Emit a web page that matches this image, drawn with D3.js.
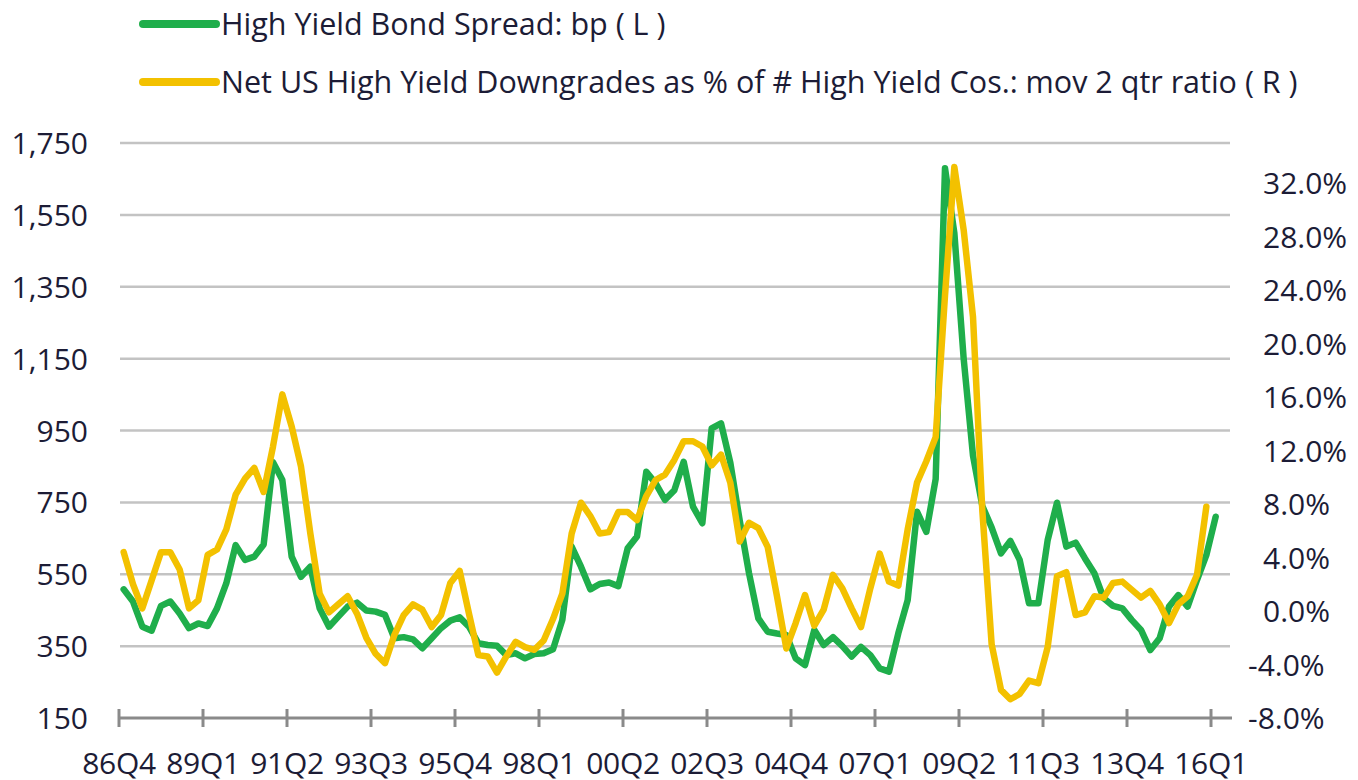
<!DOCTYPE html>
<html lang="en">
<head>
<meta charset="UTF-8">
<title>High Yield Spread vs Downgrades</title>
<style>
    body { margin: 0; background: #fff; }
    svg text { font-family: "Open Sans", sans-serif; fill: #1c1c36; }
    .grid line { stroke: #c3c3c3; stroke-width: 2.5px; }
    .line { fill: none; stroke-width: 6.5px; stroke-linejoin: round; stroke-linecap: round; }
    .axis--x line { stroke: #8a8a8a; stroke-width: 3px; }
</style>
</head>
<body>
<svg width="1358" height="780"></svg>
<script src="https://d3js.org/d3.v7.min.js"></script>
<script>
    // quarters 86Q4 .. 16Q1
    var quarters = [];
    var yr = 1986, qt = 4;
    while (quarters.length < 118) {
        quarters.push(String(yr % 100).padStart(2, "0") + "Q" + qt);
        qt++;
        if (qt > 4) { qt = 1; yr++; }
    }

    // High Yield Bond Spread, bp (left axis)
    var spread = [508, 474, 404, 393, 462, 474, 441, 400, 413, 406,
        455, 525, 631, 590, 599, 633, 862, 812, 599, 543,
        571, 455, 404, 432, 460, 471, 449, 446, 437, 372,
        375, 369, 344, 372, 400, 421, 430, 404, 358, 353,
        351, 325, 330, 316, 328, 330, 341, 423, 627, 571,
        508, 523, 527, 517, 622, 655, 835, 803, 757, 784,
        863, 738, 692, 956, 970, 860, 700, 553, 427, 390,
        385, 381, 316, 297, 395, 353, 375, 350, 321, 348,
        325, 288, 279, 386, 478, 724, 668, 815, 1680, 1500,
        1150, 880, 740, 680, 608, 643, 590, 469, 469, 645,
        749, 627, 638, 594, 553, 483, 462, 455, 423, 395,
        339, 372, 460, 492, 460, 534, 603, 710];

    // Net US HY downgrades as % of # HY companies, mov 2 qtr ratio (right axis)
    var downgrades = [4.4, 2.0, 0.2, 2.3, 4.4, 4.4, 3.1, 0.2, 0.8, 4.2,
        4.6, 6.1, 8.7, 9.9, 10.7, 8.9, 12.3, 16.2, 13.8, 10.8,
        5.8, 1.3, -0.1, 0.5, 1.1, -0.2, -2.0, -3.2, -3.9, -1.8,
        -0.3, 0.5, 0.1, -1.2, -0.3, 2.1, 3.0, -0.2, -3.3, -3.4,
        -4.6, -3.4, -2.3, -2.7, -2.9, -2.2, -0.6, 1.3, 5.8, 8.1,
        7.1, 5.8, 5.9, 7.4, 7.4, 6.8, 8.6, 9.8, 10.2, 11.3,
        12.7, 12.7, 12.3, 10.9, 11.7, 9.6, 5.2, 6.6, 6.2, 4.8,
        1.1, -2.8, -0.9, 1.2, -1.1, 0.1, 2.7, 1.7, 0.2, -1.2,
        1.7, 4.3, 2.2, 1.9, 6.1, 9.6, 11.2, 13.0, 23.6, 33.2,
        28.5, 22.0, 7.5, -2.5, -5.9, -6.6, -6.2, -5.2, -5.4, -2.7,
        2.6, 2.9, -0.3, -0.1, 1.1, 1.0, 2.1, 2.2, 1.6, 1.0,
        1.5, 0.5, -0.9, 0.5, 1.1, 2.7, 7.8];

    var leftTicks = [150, 350, 550, 750, 950, 1150, 1350, 1550, 1750];
    var rightTicks = [-8, -4, 0, 4, 8, 12, 16, 20, 24, 28, 32];
    var xTickLabels = ["86Q4", "89Q1", "91Q2", "93Q3", "95Q4", "98Q1", "00Q2",
        "02Q3", "04Q4", "07Q1", "09Q2", "11Q3", "13Q4", "16Q1"];

    var seriesNames = ["High Yield Bond Spread: bp ( L )",
        "Net US High Yield Downgrades as % of # High Yield Cos.: mov 2 qtr ratio ( R )"];
    var seriesColors = ["#1fae4b", "#f3c100"];

    var svg = d3.select("svg");
    var plotL = 119, plotR = 1232, plotT = 143, plotB = 718;

    // index scale; categories sit half a step right of the tick marks
    var x = d3.scaleLinear().domain([-0.5, 118.75]).range([plotL, plotR]);
    var y = d3.scaleLinear().domain([150, 1750]).range([plotB, plotT]);
    var yR = d3.scaleLinear().domain([-8, 35]).range([plotB, plotT]);

    // gridlines
    svg.append("g").attr("class", "grid")
        .selectAll("line")
        .data(leftTicks.slice(1))
        .enter().append("line")
        .attr("x1", plotL + 1).attr("x2", 1230)
        .attr("y1", function (d) { return y(d); })
        .attr("y2", function (d) { return y(d); });

    // left axis
    var gL = svg.append("g")
        .attr("transform", "translate(" + plotL + ",0)")
        .call(d3.axisLeft(y).tickValues(leftTicks).tickSize(0).tickPadding(31).tickFormat(d3.format(",")));
    gL.select(".domain").remove();
    gL.selectAll("text").style("font-size", "30px").attr("dy", "0.35em");

    // right axis
    var gR = svg.append("g")
        .attr("transform", "translate(1248,0)")
        .call(d3.axisRight(yR).tickValues(rightTicks).tickSize(0).tickPadding(0)
            .tickFormat(function (d) { return d.toFixed(1) + "%"; }));
    gR.select(".domain").remove();
    gR.selectAll("text").style("font-size", "30px").attr("dy", "0.35em")
        .attr("x", function (d) { return d < 0 ? 0 : 15; });

    // x axis
    var tickIdx = xTickLabels.map(function (d) { return quarters.indexOf(d) - 0.5; });
    var gX = svg.append("g").attr("class", "axis axis--x");
    gX.append("line")
        .attr("x1", plotL).attr("x2", plotR)
        .attr("y1", plotB).attr("y2", plotB);
    gX.selectAll(".tick")
        .data(tickIdx)
        .enter().append("line")
        .attr("class", "tick")
        .attr("x1", function (d) { return x(d); })
        .attr("x2", function (d) { return x(d); })
        .attr("y1", plotB - 9).attr("y2", plotB + 9);
    gX.selectAll("text")
        .data(xTickLabels)
        .enter().append("text")
        .attr("x", function (d, i) { return x(tickIdx[i]); })
        .attr("y", 774)
        .attr("text-anchor", "middle")
        .style("font-size", "30px")
        .style("letter-spacing", "-0.3px")
        .text(function (d) { return d; });

    // lines
    var lineL = d3.line()
        .x(function (d, i) { return x(i); })
        .y(function (d) { return y(d); });
    var lineR = d3.line()
        .x(function (d, i) { return x(i); })
        .y(function (d) { return yR(d); });

    svg.append("path").datum(spread)
        .attr("class", "line")
        .attr("stroke", seriesColors[0])
        .attr("d", lineL);
    svg.append("path").datum(downgrades)
        .attr("class", "line")
        .attr("stroke", seriesColors[1])
        .attr("d", lineR);

    // legend
    var legend = svg.append("g");
    seriesNames.forEach(function (name, i) {
        var ly = 24 + i * 58;
        legend.append("line")
            .attr("x1", 143).attr("x2", 216)
            .attr("y1", ly).attr("y2", ly)
            .attr("stroke", seriesColors[i])
            .attr("stroke-width", 8)
            .attr("stroke-linecap", "round");
        legend.append("text")
            .attr("x", 221).attr("y", ly)
            .attr("dy", "0.35em")
            .style("font-size", "30.5px")
            .text(name);
    });
</script>
</body>
</html>
